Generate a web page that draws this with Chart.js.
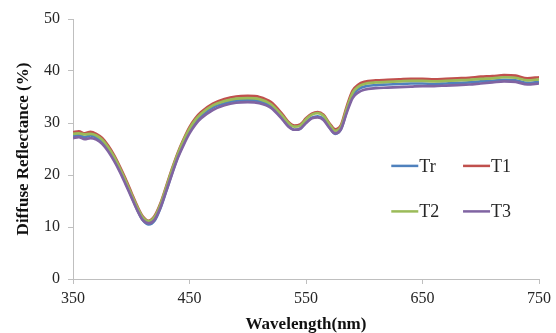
<!DOCTYPE html>
<html>
<head>
<meta charset="utf-8">
<script src="https://cdn.jsdelivr.net/npm/chart.js@4.4.1/dist/chart.umd.min.js"></script>
<style>
  html, body { margin: 0; padding: 0; background: #fff; }
  #wrap { width: 556px; height: 333px; }
</style>
</head>
<body>
<div id="wrap"><canvas id="spectra"></canvas></div>
<script>
// Wavelength (nm)
const wavelengths = [350,355,360,365,370,375,380,385,390,395,400,405,410,415,420,425,430,435,440,445,450,455,460,
  470,480,490,500,510,520,530,535,540,545,550,555,560,565,570,575,580,585,590,595,600,
  610,620,630,640,650,660,670,680,690,700,710,720,730,740,750];

// Diffuse reflectance (%) per sample
const tr = [27.5,27.7,27.3,27.6,27.2,26.4,25.0,23.2,21.0,18.6,16.0,13.4,11.3,10.5,11.2,13.6,16.9,20.3,23.5,26.1,28.4,30.1,31.4,
  33.0,33.8,34.3,34.4,34.2,33.2,30.8,29.4,28.7,28.9,30.1,31.0,31.3,30.8,29.2,27.9,28.8,32.3,35.3,36.5,37.0,
  37.3,37.4,37.5,37.6,37.6,37.5,37.6,37.7,37.8,38.0,38.1,38.3,38.2,37.7,37.9];
const t1 = [28.2,28.4,28.0,28.3,27.9,27.1,25.7,23.9,21.7,19.3,16.7,14.1,12.0,11.2,12.1,14.5,17.8,21.2,24.3,26.9,29.2,30.9,32.1,
  33.7,34.6,35.1,35.2,35.0,34.0,31.6,30.2,29.5,29.7,30.9,31.8,32.1,31.6,30.0,28.8,29.6,33.2,36.2,37.4,37.9,
  38.2,38.3,38.4,38.5,38.5,38.4,38.5,38.6,38.7,38.9,39.0,39.2,39.1,38.6,38.8];
const t2 = [27.9,28.0,27.8,27.9,27.6,26.8,25.4,23.6,21.4,19.0,16.4,13.9,11.8,11.1,11.9,14.3,17.6,21.0,24.1,26.7,28.9,30.6,31.8,
  33.4,34.2,34.7,34.8,34.6,33.6,31.3,30.0,29.3,29.5,30.7,31.6,31.9,31.4,29.8,28.5,29.3,32.8,35.8,37.0,37.5,
  37.8,37.9,38.0,38.1,38.1,38.0,38.1,38.2,38.3,38.5,38.6,38.8,38.7,38.2,38.4];
const t3 = [27.1,27.3,26.9,27.1,26.8,26.0,24.6,22.8,20.7,18.3,15.8,13.3,11.3,10.7,11.4,13.7,16.9,20.2,23.3,25.8,28.0,29.7,30.9,
  32.5,33.4,33.9,34.0,33.8,32.9,30.6,29.3,28.7,28.9,30.0,30.9,31.1,30.6,29.1,28.0,28.8,32.0,34.8,35.9,36.4,
  36.7,36.8,36.9,37.0,37.1,37.1,37.2,37.3,37.4,37.6,37.8,38.0,37.9,37.4,37.6];

const seriesNames = ['Tr', 'T1', 'T2', 'T3'];
const seriesColors = ['#4F81BD', '#C0504D', '#9BBB59', '#8064A2'];
const seriesValues = [tr, t1, t2, t3];

const serif = "'Liberation Serif', 'Times New Roman', serif";
const axisColor = '#bfbfbf';
const textColor = '#262626';

const toPoints = vals => wavelengths.map((w, i) => ({ x: w, y: vals[i] }));

// Legend drawn inside the plot, two columns by two rows
const insideLegend = {
  id: 'insideLegend',
  afterDraw(chart) {
    const { ctx, chartArea } = chart;
    const slots = [
      { dx: 0.683, dy: 0.565 }, { dx: 0.837, dy: 0.565 },
      { dx: 0.683, dy: 0.74 }, { dx: 0.837, dy: 0.74 }
    ];
    ctx.save();
    ctx.font = '18px ' + serif;
    ctx.textBaseline = 'middle';
    ctx.fillStyle = textColor;
    seriesNames.forEach((name, i) => {
      const x = chartArea.left + slots[i].dx * (chartArea.right - chartArea.left);
      const y = chartArea.top + slots[i].dy * (chartArea.bottom - chartArea.top);
      ctx.strokeStyle = seriesColors[i];
      ctx.lineWidth = 2.5;
      ctx.beginPath();
      ctx.moveTo(x, y);
      ctx.lineTo(x + 27, y);
      ctx.stroke();
      ctx.fillText(name, x + 28, y + 1);
    });
    ctx.restore();
  }
};

new Chart(document.getElementById('spectra'), {
  type: 'line',
  data: {
    datasets: seriesNames.map((name, i) => ({
      label: name,
      data: toPoints(seriesValues[i]),
      borderColor: seriesColors[i],
      borderWidth: 2.7,
      pointRadius: 0,
      cubicInterpolationMode: 'monotone',
      fill: false,
      order: seriesNames.length - i   // later series on top, like the original
    }))
  },
  options: {
    responsive: true,
    maintainAspectRatio: false,
    animation: false,
    layout: { padding: { top: 19, right: 17, bottom: 0, left: 0 } },
    plugins: { legend: { display: false }, tooltip: { enabled: false } },
    scales: {
      x: {
        type: 'linear', min: 350, max: 750,
        ticks: { stepSize: 100, color: textColor, padding: 5, font: { family: serif, size: 16 }, maxRotation: 0 },
        grid: { drawOnChartArea: false, drawTicks: true, tickLength: 5, color: axisColor },
        border: { color: axisColor },
        title: { display: true, text: 'Wavelength(nm)', color: '#111', padding: { top: 0, bottom: -2 },
          font: { family: serif, size: 17, weight: 'bold' } },
        afterFit(scale) { scale.height = 54; }
      },
      y: {
        min: 0, max: 50,
        ticks: { stepSize: 10, color: textColor, padding: 8, font: { family: serif, size: 16 } },
        grid: { drawOnChartArea: false, drawTicks: true, tickLength: 5, color: axisColor },
        border: { color: axisColor },
        title: { display: true, text: 'Diffuse Reflectance (%)', color: '#111', padding: { top: 13, bottom: 0 },
          font: { family: serif, size: 17, weight: 'bold' } },
        afterFit(scale) { scale.width = 73; }
      }
    }
  },
  plugins: [insideLegend]
});
</script>
</body>
</html>
